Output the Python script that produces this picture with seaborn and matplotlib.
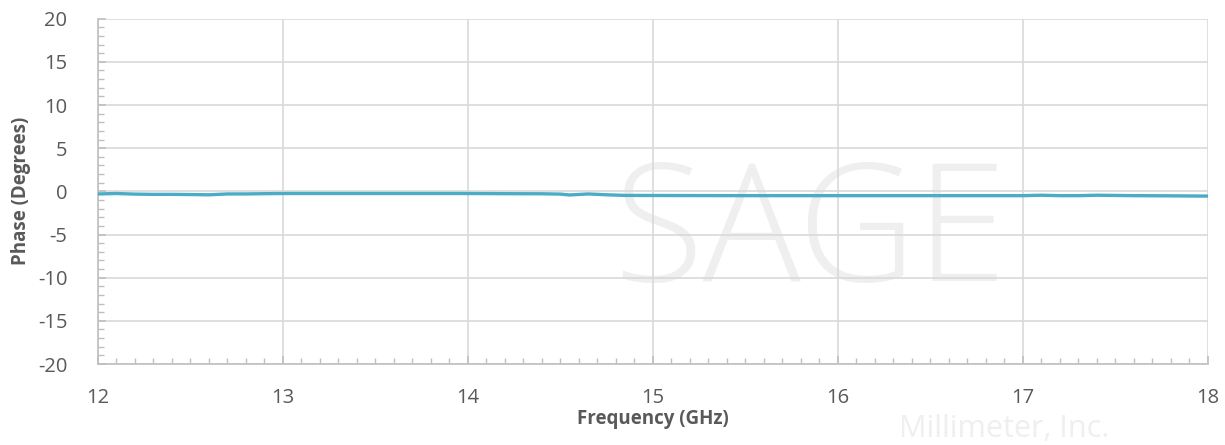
import matplotlib
matplotlib.use("Agg")
import matplotlib.pyplot as plt
import seaborn as sns
import pandas as pd
import numpy as np
from matplotlib.ticker import MultipleLocator

freq_ghz = [12.0, 12.1, 12.2, 12.3, 12.4, 12.5, 12.6, 12.7, 12.8, 12.9, 13.0,
            13.2, 13.4, 13.6, 13.8, 14.0, 14.2, 14.4, 14.5, 14.55, 14.65, 14.75,
            14.85, 15.0, 15.5, 16.0, 16.5, 17.0, 17.1, 17.2, 17.3, 17.4, 17.6, 17.8, 18.0]
phase_deg = [-0.3, -0.25, -0.32, -0.35, -0.35, -0.37, -0.4, -0.3, -0.3, -0.27, -0.25,
             -0.25, -0.25, -0.25, -0.25, -0.25, -0.27, -0.28, -0.32, -0.42, -0.3, -0.4,
             -0.47, -0.48, -0.5, -0.5, -0.5, -0.5, -0.45, -0.5, -0.5, -0.45, -0.5, -0.52, -0.55]

x_label = "Frequency (GHz)"
y_label = "Phase (Degrees)"

df = pd.DataFrame({"freq": freq_ghz, "phase": phase_deg})

sns.set_style("white")
plt.rcParams["font.family"] = ["Open Sans", "DejaVu Sans"]
plt.rcParams["axes.unicode_minus"] = False

fig = plt.figure(figsize=(12.25, 4.45), dpi=100)
ax = fig.add_axes([0.080, 0.182, 0.906, 0.776])

# watermark
ax.text(15.85, -5.5, "SAGE", fontsize=118, color="#efefef", ha="center", va="center",
        zorder=0, fontweight="light")
ax.text(16.9, -27.5, "Millimeter, Inc.", fontsize=22, color="#efefef", ha="center",
        va="center", zorder=0, clip_on=False)

sns.lineplot(data=df, x="freq", y="phase", ax=ax, color="#4BACC6", linewidth=2.4, zorder=3)

ax.set_xlim(12, 18)
ax.set_ylim(-20, 20)
ax.xaxis.set_major_locator(MultipleLocator(1))
ax.xaxis.set_minor_locator(MultipleLocator(0.1))
ax.yaxis.set_major_locator(MultipleLocator(5))
ax.yaxis.set_minor_locator(MultipleLocator(1))
ax.grid(True, which="major", color="#d9d9d9", linewidth=1.2, zorder=1)
ax.set_axisbelow(True)

for s in ["top", "right"]:
    ax.spines[s].set_visible(False)
for s in ["left", "bottom"]:
    ax.spines[s].set_color("#bfbfbf")
    ax.spines[s].set_linewidth(1.2)

ax.tick_params(axis="x", which="both", bottom=True)
ax.tick_params(axis="y", which="both", left=True)
ax.tick_params(axis="both", which="major", direction="in", length=6, color="#bfbfbf",
               width=1.2, labelsize=14.5, labelcolor="#595959")
ax.tick_params(axis="both", which="minor", direction="in", length=4, color="#bfbfbf", width=1)
ax.tick_params(axis="x", which="major", pad=17)
ax.tick_params(axis="y", which="major", pad=22)

ax.set_xlabel(x_label, fontsize=13.5, fontweight="bold", color="#595959", labelpad=1)
ax.set_ylabel(y_label, fontsize=13.5, fontweight="bold", color="#595959", labelpad=5)

fig.savefig("out.png", dpi=100, facecolor="white")
